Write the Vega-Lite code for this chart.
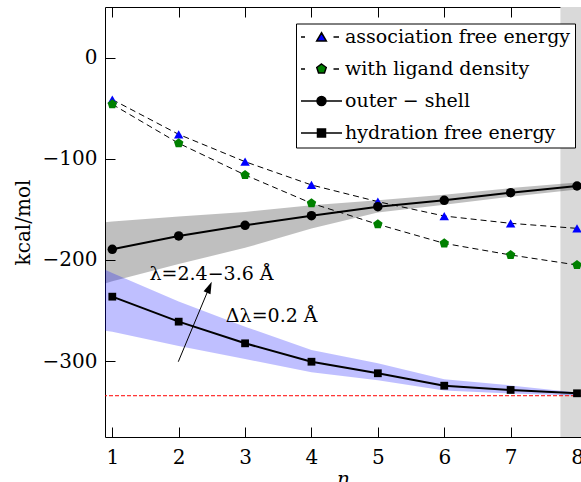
{
  "$schema": "https://vega.github.io/schema/vega-lite/v6.json",
  "width": 476,
  "height": 430,
  "autosize": "none",
  "padding": {"left": 105, "top": 7, "right": 0, "bottom": 45},
  "background": "white",
  "config": {
    "view": {"stroke": null},
    "axis": {
      "labelFont": "DejaVu Serif", "labelFontSize": 20, "labelColor": "black",
      "titleFont": "DejaVu Serif", "titleFontSize": 20, "titleColor": "black", "titleFontWeight": "normal",
      "domainColor": "black", "domainWidth": 1, "tickColor": "black", "tickWidth": 1, "grid": false, "tickSize": -10
    }
  },
  "datasets": {
    "pts": [
      {"n": 1, "value": -41.5, "series": "association free energy"},
      {"n": 2, "value": -75.9, "series": "association free energy"},
      {"n": 3, "value": -102.9, "series": "association free energy"},
      {"n": 4, "value": -125.9, "series": "association free energy"},
      {"n": 5, "value": -142.4, "series": "association free energy"},
      {"n": 6, "value": -156.6, "series": "association free energy"},
      {"n": 7, "value": -163.8, "series": "association free energy"},
      {"n": 8, "value": -168.8, "series": "association free energy"},
      {"n": 1, "value": -46.2, "series": "with ligand density"},
      {"n": 2, "value": -84.7, "series": "with ligand density"},
      {"n": 3, "value": -116, "series": "with ligand density"},
      {"n": 4, "value": -144, "series": "with ligand density"},
      {"n": 5, "value": -164.8, "series": "with ligand density"},
      {"n": 6, "value": -183.6, "series": "with ligand density"},
      {"n": 7, "value": -195.1, "series": "with ligand density"},
      {"n": 8, "value": -205, "series": "with ligand density"},
      {"n": 1, "value": -189.5, "series": "outer − shell"},
      {"n": 2, "value": -176.3, "series": "outer − shell"},
      {"n": 3, "value": -165.8, "series": "outer − shell"},
      {"n": 4, "value": -156.3, "series": "outer − shell"},
      {"n": 5, "value": -147.4, "series": "outer − shell"},
      {"n": 6, "value": -141.1, "series": "outer − shell"},
      {"n": 7, "value": -133.5, "series": "outer − shell"},
      {"n": 8, "value": -126.9, "series": "outer − shell"},
      {"n": 1, "value": -236.3, "series": "hydration free energy"},
      {"n": 2, "value": -261, "series": "hydration free energy"},
      {"n": 3, "value": -282.4, "series": "hydration free energy"},
      {"n": 4, "value": -300.6, "series": "hydration free energy"},
      {"n": 5, "value": -312, "series": "hydration free energy"},
      {"n": 6, "value": -324.3, "series": "hydration free energy"},
      {"n": 7, "value": -328.5, "series": "hydration free energy"},
      {"n": 8, "value": -331.8, "series": "hydration free energy"}
    ],
    "bands": [
      {"n": 0.8, "lo": -225, "hi": -163.5, "band": "outer"},
      {"n": 1, "lo": -221, "hi": -162, "band": "outer"},
      {"n": 2, "lo": -204, "hi": -157, "band": "outer"},
      {"n": 3, "lo": -188, "hi": -152.5, "band": "outer"},
      {"n": 4, "lo": -169, "hi": -146, "band": "outer"},
      {"n": 5, "lo": -153, "hi": -141, "band": "outer"},
      {"n": 6, "lo": -145.5, "hi": -135.5, "band": "outer"},
      {"n": 7, "lo": -137.5, "hi": -129, "band": "outer"},
      {"n": 8, "lo": -130.5, "hi": -123.5, "band": "outer"},
      {"n": 0.8, "lo": -269, "hi": -207, "band": "hydration"},
      {"n": 1, "lo": -271, "hi": -213, "band": "hydration"},
      {"n": 2, "lo": -285, "hi": -241, "band": "hydration"},
      {"n": 3, "lo": -298, "hi": -266, "band": "hydration"},
      {"n": 4, "lo": -311, "hi": -289, "band": "hydration"},
      {"n": 5, "lo": -319, "hi": -302, "band": "hydration"},
      {"n": 6, "lo": -329, "hi": -318, "band": "hydration"},
      {"n": 7, "lo": -332, "hi": -324, "band": "hydration"},
      {"n": 8, "lo": -334, "hi": -331, "band": "hydration"}
    ],
    "vband": [{"x1": 7.75, "x2": 8.3}],
    "ref": [{"y": -334.2}],
    "arrow": [{"x1": 1.994, "y1": -300.6, "x2": 2.4535, "y2": -228.3}],
    "notes": [
      {"x": 2.494, "y": -219.8, "text": "λ=2.4−3.6 Å"},
      {"x": 3.401, "y": -261, "text": "Δλ=0.2 Å"}
    ]
  },
  "layer": [
    {
      "data": {"name": "vband"},
      "mark": {"type": "rect", "color": "#d9d9d9", "clip": true},
      "encoding": {
        "x": {"field": "x1", "type": "quantitative", "scale": {"domain": [0.89, 8.06], "nice": false, "zero": false}, "axis": null},
        "x2": {"field": "x2"}
      }
    },
    {
      "data": {"name": "bands"},
      "transform": [{"filter": "datum.band == 'outer'"}],
      "mark": {"type": "area", "color": "black", "opacity": 0.25, "clip": true},
      "encoding": {
        "x": {"field": "n", "type": "quantitative", "axis": null},
        "y": {"field": "lo", "type": "quantitative", "scale": {"domain": [-375, 50], "nice": false, "zero": false}, "axis": null},
        "y2": {"field": "hi"}
      }
    },
    {
      "data": {"name": "bands"},
      "transform": [{"filter": "datum.band == 'hydration'"}],
      "mark": {"type": "area", "color": "blue", "opacity": 0.25, "clip": true},
      "encoding": {
        "x": {"field": "n", "type": "quantitative", "axis": null},
        "y": {"field": "lo", "type": "quantitative", "axis": null},
        "y2": {"field": "hi"}
      }
    },
    {
      "data": {"name": "ref"},
      "mark": {"type": "rule", "color": "red", "strokeWidth": 1, "strokeDash": [4, 2]},
      "encoding": {
        "y": {"field": "y", "type": "quantitative", "axis": null}
      }
    },
    {
      "data": {"name": "pts"},
      "transform": [{"filter": "datum.series == 'association free energy' || datum.series == 'with ligand density'"}],
      "mark": {"type": "line", "color": "black", "strokeWidth": 1, "strokeDash": [6, 4]},
      "encoding": {
        "x": {"field": "n", "type": "quantitative", "axis": null},
        "y": {"field": "value", "type": "quantitative", "axis": null},
        "detail": {"field": "series"}
      }
    },
    {
      "data": {"name": "pts"},
      "transform": [{"filter": "datum.series == 'outer − shell' || datum.series == 'hydration free energy'"}],
      "mark": {"type": "line", "color": "black", "strokeWidth": 2},
      "encoding": {
        "x": {"field": "n", "type": "quantitative",
          "axis": {"orient": "bottom", "values": [1, 2, 3, 4, 5, 6, 7, 8], "title": "n", "titleFontStyle": "italic", "labelPadding": 20, "titleY": 42, "titleBaseline": "middle"}},
        "y": {"field": "value", "type": "quantitative",
          "axis": {"orient": "left", "values": [-300, -200, -100, 0], "title": "kcal/mol", "labelPadding": 18, "titleX": -82, "titleY": 215, "titleAngle": -90, "titleBaseline": "middle", "titleAlign": "center"}},
        "detail": {"field": "series"}
      }
    },
    {
      "data": {"name": "pts"},
      "mark": {"type": "point", "filled": true, "opacity": 1, "size": 90},
      "encoding": {
        "x": {"field": "n", "type": "quantitative",
          "axis": {"orient": "top", "values": [1, 2, 3, 4, 5, 6, 7, 8], "labels": false, "title": null}},
        "y": {"field": "value", "type": "quantitative",
          "axis": {"orient": "right", "values": [-300, -200, -100, 0], "labels": false, "title": null, "domain": false}},
        "color": {"field": "series", "type": "nominal", "legend": null,
          "scale": {"domain": ["association free energy", "with ligand density", "outer − shell", "hydration free energy"], "range": ["#0000ff", "#008000", "#000000", "#000000"]}},
        "shape": {"field": "series", "type": "nominal", "legend": null,
          "scale": {"domain": ["association free energy", "with ligand density", "outer − shell", "hydration free energy"], "range": ["triangle-up", "M0,-1.05L1,-0.32L0.62,0.85H-0.62L-1,-0.32Z", "circle", "M-0.82,-0.82H0.82V0.82H-0.82Z"]}}
      }
    },
    {
      "data": {"name": "pts"},
      "transform": [{"filter": "datum.n > 100"}],
      "mark": {"type": "point", "filled": true, "opacity": 1, "size": 100, "stroke": "black", "strokeWidth": 1.5},
      "encoding": {
        "x": {"field": "n", "type": "quantitative", "axis": null},
        "y": {"field": "value", "type": "quantitative", "axis": null},
        "fill": {"field": "series", "type": "nominal",
          "scale": {"domain": ["association free energy", "with ligand density", "outer − shell", "hydration free energy"], "range": ["#0000ff", "#008000", "#000000", "#000000"]},
          "legend": {
            "orient": "none", "legendX": 191, "legendY": 16.5, "title": null, "direction": "vertical",
            "labelFont": "DejaVu Serif", "labelFontSize": 19, "labelColor": "black", "labelLimit": 400,
            "strokeColor": "black", "fillColor": "white", "padding": 4, "rowPadding": 12,
            "symbolSize": 100, "symbolOffset": 12, "labelOffset": 14, "cornerRadius": 0,
            "symbolFillColor": {"expr": "datum.value == 'association free energy' ? '#0000ff' : datum.value == 'with ligand density' ? '#008000' : '#000000'"},
            "symbolStrokeColor": "black", "symbolStrokeWidth": 1.5}},
        "shape": {"field": "series", "type": "nominal",
          "scale": {"domain": ["association free energy", "with ligand density", "outer − shell", "hydration free energy"], "range": ["M-4.1,0H-3.3M2.4,0H3.5M0,-0.85L0.97,0.82H-0.97Z", "M-4.1,0H-3.3M2.4,0H3.5M0,-1L0.95,-0.31L0.59,0.81H-0.59L-0.95,-0.31Z", "M-4.1,0H4.1M0.9,0A0.9,0.9,0,1,1,-0.9,0A0.9,0.9,0,1,1,0.9,0Z", "M-4.1,0H4.1M-0.8,-0.8H0.8V0.8H-0.8Z"]},
          "legend": {
            "orient": "none", "legendX": 191, "legendY": 16.5, "title": null, "direction": "vertical",
            "labelFont": "DejaVu Serif", "labelFontSize": 19, "labelColor": "black", "labelLimit": 400,
            "strokeColor": "black", "fillColor": "white", "padding": 4, "rowPadding": 12,
            "symbolSize": 100, "symbolOffset": 12, "labelOffset": 14, "cornerRadius": 0,
            "symbolFillColor": {"expr": "datum.value == 'association free energy' ? '#0000ff' : datum.value == 'with ligand density' ? '#008000' : '#000000'"},
            "symbolStrokeColor": "black", "symbolStrokeWidth": 1.5}}
      }
    },
    {
      "data": {"name": "arrow"},
      "mark": {"type": "rule", "color": "black", "strokeWidth": 1},
      "encoding": {
        "x": {"field": "x1", "type": "quantitative", "axis": null},
        "y": {"field": "y1", "type": "quantitative", "axis": null},
        "x2": {"field": "x2"},
        "y2": {"field": "y2"}
      }
    },
    {
      "data": {"name": "arrow"},
      "mark": {"type": "point", "filled": true, "color": "black", "opacity": 1, "size": 225, "angle": 23, "shape": "M0,-1L0.5,0.6L-0.5,0.6Z"},
      "encoding": {
        "x": {"field": "x2", "type": "quantitative", "axis": null},
        "y": {"field": "y2", "type": "quantitative", "axis": null}
      }
    },
    {
      "data": {"name": "notes"},
      "mark": {"type": "text", "font": "DejaVu Serif", "fontSize": 19, "color": "black", "align": "center", "baseline": "alphabetic"},
      "encoding": {
        "x": {"field": "x", "type": "quantitative", "axis": null},
        "y": {"field": "y", "type": "quantitative", "axis": null},
        "text": {"field": "text"}
      }
    }
  ],
  "resolve": {"axis": {"x": "independent", "y": "independent"}, "scale": {"shape": "independent"}}
}
